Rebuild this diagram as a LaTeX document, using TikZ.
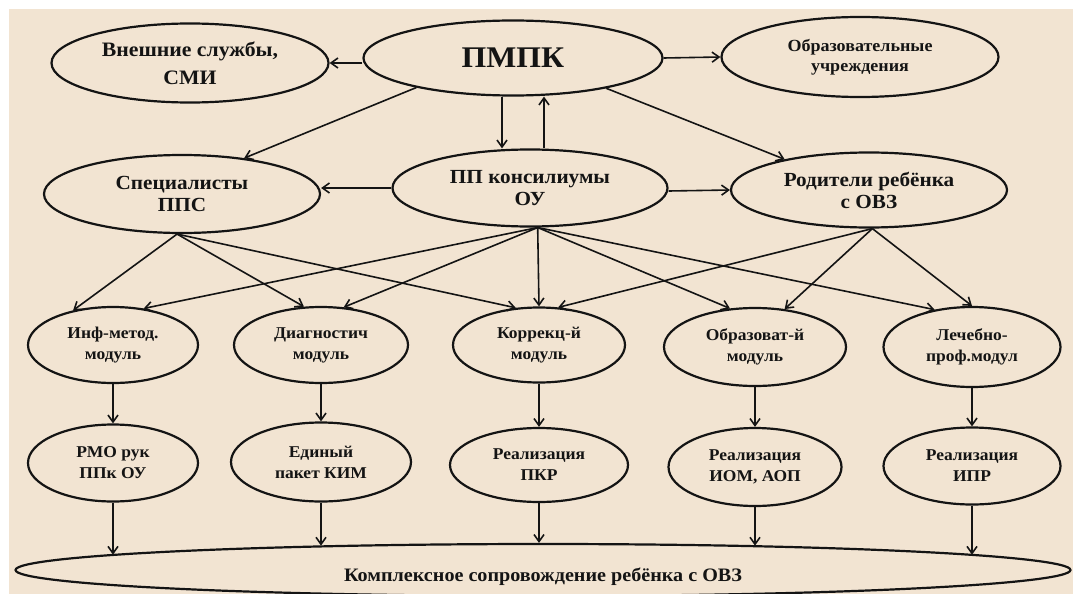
\documentclass[tikz,border=0pt]{standalone}
\usepackage{fontspec}
\setmainfont[FakeStretch=1.06]{Liberation Serif}
\usetikzlibrary{shapes.geometric,arrows.meta,calc}
\definecolor{bg}{RGB}{242,228,210}
\definecolor{ink}{RGB}{20,20,20}
\begin{document}
\begin{tikzpicture}[x=1pt,y=-1pt,
  ell/.style={ellipse,draw=ink,line width=2.2pt,inner sep=0pt,align=center,text=ink},
  ftop/.style={font=\fontsize{20}{22}\selectfont\bfseries},
  fobr/.style={font=\fontsize{17}{20}\selectfont\bfseries},
  fmod/.style={font=\fontsize{16.5}{21}\selectfont\bfseries},
  arr/.style={line width=1.6pt,draw=ink,-{Straight Barb[length=7pt,width=10pt,line width=1.6pt]}}]
\useasboundingbox (0,0) rectangle (1073,594);
\fill[white] (0,0) rectangle (1073,594);
\fill[bg] (9,9) rectangle (1073,594);
% top row
\node[ell,font=\fontsize{20.5}{28}\selectfont\bfseries,minimum width=277pt,minimum height=79pt] (ext) at (190,63) {Внешние службы,\\СМИ};
\node[ell,minimum width=299pt,minimum height=75pt,font=\fontsize{30}{30}\selectfont\bfseries] (pmpk) at (513,58) {ПМПК};
\node[ell,fobr,minimum width=277pt,minimum height=80pt] (obr) at (860,57) {Образовательные\\учреждения};
% second row
\node[ell,ftop,minimum width=276pt,minimum height=78pt] (spec) at (182,194) {Специалисты\\ППС};
\node[ell,ftop,minimum width=275pt,minimum height=77pt] (pp) at (530,188) {ПП консилиумы\\ОУ};
\node[ell,ftop,minimum width=276pt,minimum height=75pt] (rod) at (869,190) {Родители ребёнка\\с ОВЗ};
% modules
\node[ell,fmod,minimum width=170pt,minimum height=76pt] (m1) at (113,345) {Инф-метод.\\модуль};
\node[ell,fmod,minimum width=174pt,minimum height=76pt] (m2) at (321,345) {Диагностич\\модуль};
\node[ell,fmod,minimum width=172pt,minimum height=75pt] (m3) at (539,345) {Коррекц-й\\модуль};
\node[ell,fmod,minimum width=182pt,minimum height=78pt] (m4) at (755,347) {Образоват-й\\модуль};
\node[ell,fmod,minimum width=177pt,minimum height=80pt] (m5) at (972,347) {Лечебно-\\проф.модул};
% results
\node[ell,fmod,minimum width=170pt,minimum height=77pt] (r1) at (113,463) {РМО рук\\ППк ОУ};
\node[ell,fmod,minimum width=180pt,minimum height=79pt] (r2) at (321,462) {Единый\\пакет КИМ};
\node[ell,fmod,minimum width=178pt,minimum height=74pt] (r3) at (539,465) {Реализация\\ПКР};
\node[ell,fmod,minimum width=173pt,minimum height=78pt] (r4) at (755,467) {Реализация\\ИОМ, АОП};
\node[ell,fmod,minimum width=177pt,minimum height=77pt] (r5) at (972,466) {Реализация\\ИПР};
% bottom
\node[ell,minimum width=1055pt,minimum height=52pt,
  label={[font=\fontsize{19}{20}\selectfont\bfseries,text=ink,yshift=-7pt]center:Комплексное сопровождение ребёнка с ОВЗ}] (big) at (543,570) {};
% arrows top
\draw[arr] (pmpk.west |- ext.east) -- (ext.east);
\draw[arr] (pmpk.east) -- (obr.west);
\draw[arr] (pmpk.197) -- (spec.30);
\draw[arr] (pmpk.342) -- (rod.160);
\draw[arr] ([xshift=-11pt]pmpk.south) -- ([xshift=-28pt]pp.north);
\draw[arr] ([xshift=14pt]pp.north) -- ([xshift=31pt]pmpk.south);
\draw[arr] (pp.west) -- (pp.west -| spec.east);
\draw[arr] ([yshift=-3pt]pp.east) -- (rod.west);
% to modules
\draw[arr] (spec.263) -- (m1.139);
\draw[arr] (spec.263) -- (m2.114);
\draw[arr] (spec.263) -- (m3.122);
\draw[arr] (pp.281) -- (m1.50);
\draw[arr] (pp.281) -- (m2.59);
\draw[arr] (pp.281) -- (m3.north);
\draw[arr] (pp.281) -- (m4.123);
\draw[arr] (pp.281) -- (m5.135);
\draw[arr] (rod.275) -- (m3.63);
\draw[arr] (rod.275) -- (m4.52);
\draw[arr] (rod.275) -- (m5.north);
% modules to results
\draw[arr] (m1) -- (r1);
\draw[arr] (m2) -- (r2);
\draw[arr] (m3) -- (r3);
\draw[arr] (m4) -- (r4);
\draw[arr] (m5) -- (r5);
% results to bottom
\draw[arr] (r1.south) -- (r1.south |- big.178);
\draw[arr] (r2.south) -- (r2.south |- big.174);
\draw[arr] (r3.south) -- (r3.south |- big.north);
\draw[arr] (r4.south) -- (r4.south |- big.6);
\draw[arr] (r5.south) -- (r5.south |- big.2);
\end{tikzpicture}
\end{document}
